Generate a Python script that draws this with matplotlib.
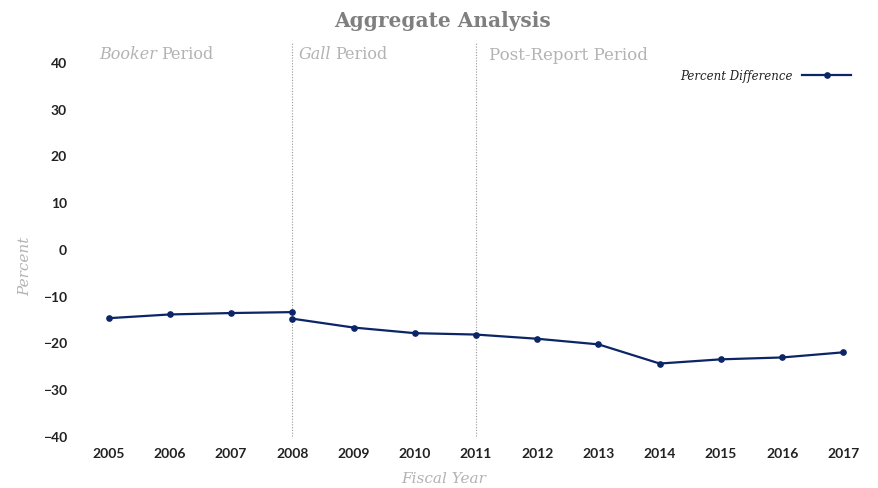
import matplotlib.pyplot as plt

# -----------------------------
# Data
# -----------------------------
years_before = [2005, 2006, 2007, 2008]
pct_before = [-14.8, -14.0, -13.7, -13.5]

years_after = [2008, 2009, 2010, 2011, 2012, 2013, 2014, 2015, 2016, 2017]
pct_after = [-14.9, -16.8, -18.0, -18.3, -19.2, -20.4, -24.5, -23.6, -23.2, -22.1]

year_ticks = list(range(2005, 2018))
pct_ticks = [-40, -30, -20, -10, 0, 10, 20, 30, 40]

period_breaks = [2008, 2011]

NAVY = "#0b2566"
GRAY = "#7f7f7f"
LIGHT = "#b3b3b3"
SERIF = ["DejaVu Serif"]

# -----------------------------
# Figure
# -----------------------------
fig = plt.figure(figsize=(8.79, 4.89), dpi=100)
ax = fig.add_axes([78 / 879, 1 - 437 / 489, (874 - 78) / 879, (437 - 63) / 489])

ax.plot(years_before, pct_before, color=NAVY, lw=1.6, marker="o", ms=3.8,
        label="Percent Difference")
ax.plot(years_after, pct_after, color=NAVY, lw=1.6, marker="o", ms=3.8)

ax.set_xlim(2004.5, 2017.5)
ax.set_ylim(-40, 40)
ax.set_xticks(year_ticks)
ax.set_yticks(pct_ticks)
ax.tick_params(length=0, labelsize=10, pad=8)
for lab in ax.get_xticklabels() + ax.get_yticklabels():
    lab.set_fontfamily("Lato")
    lab.set_fontweight("bold")
    lab.set_color("#222222")
for s in ax.spines.values():
    s.set_visible(False)

# period separators
for yr in period_breaks:
    ax.plot([yr, yr], [-40, 44.3], color="#999999", lw=0.8, ls=(0, (1, 1.5)),
            clip_on=False, zorder=0)

# period labels (italic name followed by upright "Period")
lab_kw = dict(fontsize=11.5, color=LIGHT, family=SERIF)
booker = ax.text(2004.84, 41.8, "Booker", style="italic", va="center", **lab_kw)
ax.annotate("Period", xy=(1, 0), xycoords=booker, xytext=(3, 0),
            textcoords="offset points", va="bottom", **lab_kw)
gall = ax.text(2008.1, 41.8, "Gall", style="italic", va="center", **lab_kw)
ax.annotate("Period", xy=(1, 0), xycoords=gall, xytext=(3, 0),
            textcoords="offset points", va="bottom", **lab_kw)
ax.text(2011.22, 41.7, "Post-Report Period", fontsize=12, color=LIGHT,
        family=SERIF, va="center")

fig.text(0.503, 1 - 21 / 489, "Aggregate Analysis", ha="center", va="center",
         fontsize=14.5, fontweight="bold", color=GRAY, family=SERIF)
fig.text(0.505, 1 - 479 / 489, "Fiscal Year", ha="center", va="center",
         style="italic", fontsize=11, color=LIGHT, family=SERIF)
fig.text(25 / 879, 1 - 266 / 489, "Percent", ha="center", va="center",
         rotation=90, style="italic", fontsize=11, color=LIGHT, family=SERIF)

leg = ax.legend(loc="upper right", bbox_to_anchor=(0.985, 1.01), frameon=False,
                markerfirst=False, handlelength=4.2, handletextpad=0.8,
                prop={"family": SERIF, "style": "italic", "size": 8.5})
for t in leg.get_texts():
    t.set_color("#222222")

fig.savefig("out.png", dpi=100)
